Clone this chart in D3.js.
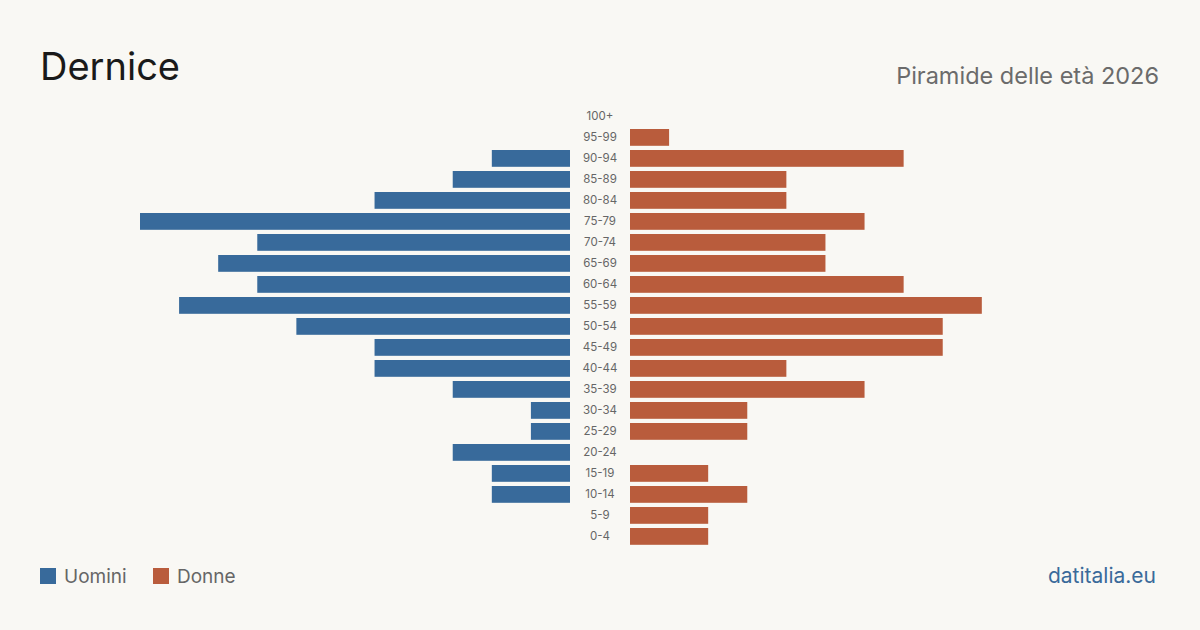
<!DOCTYPE html>
<html>
<head>
<meta charset="utf-8">
<script src="https://cdn.jsdelivr.net/npm/d3@7"></script>
<style>
  html, body { margin: 0; padding: 0; background: #f9f8f4; }
  svg { display: block; font-family: Inter, "Noto Sans", sans-serif; }
</style>
</head>
<body>
<div id="chart"></div>
<script>
// age groups, top to bottom
const ages = ["100+", "95-99", "90-94", "85-89", "80-84", "75-79", "70-74", "65-69", "60-64", "55-59",
  "50-54", "45-49", "40-44", "35-39", "30-34", "25-29", "20-24", "15-19", "10-14", "5-9", "0-4"];
const uomini = [0, 0, 2, 3, 5, 11, 8, 9, 8, 10, 7, 5, 5, 3, 1, 1, 3, 2, 2, 0, 0];
const donne = [0, 1, 7, 4, 4, 6, 5, 5, 7, 9, 8, 8, 4, 6, 3, 3, 0, 2, 3, 2, 2];

const W = 1200, H = 630;
const colMen = "#386a9b", colWomen = "#b95c3c";

const svg = d3.select("#chart").append("svg")
  .attr("width", W).attr("height", H);

svg.append("rect").attr("width", W).attr("height", H).attr("fill", "#f9f8f4");

// title & subtitle
svg.append("text").attr("x", 40).attr("y", 80)
  .attr("font-size", 38).attr("fill", "#1a1a1a").text("Dernice");
svg.append("text").attr("x", 1159).attr("y", 84).attr("text-anchor", "end")
  .attr("font-size", 23.5).attr("fill", "#6b6b6b").text("Piramide delle età 2026");

const y = d3.scaleBand().domain(ages).range([103.8, 549]).padding(0.2);
const maxV = 11;
const xL = d3.scaleLinear().domain([0, maxV]).range([570, 140]);
const xR = d3.scaleLinear().domain([0, maxV]).range([630, 1060]);

const rows = ages.map((a, i) => ({ age: a, m: uomini[i], f: donne[i] }));

svg.selectAll(".bar-m").data(rows).enter().append("rect")
  .attr("class", "bar-m")
  .attr("x", d => xL(d.m))
  .attr("y", d => y(d.age))
  .attr("width", d => xL(0) - xL(d.m))
  .attr("height", y.bandwidth())
  .attr("fill", colMen);

svg.selectAll(".bar-f").data(rows).enter().append("rect")
  .attr("class", "bar-f")
  .attr("x", xR(0))
  .attr("y", d => y(d.age))
  .attr("width", d => xR(d.f) - xR(0))
  .attr("height", y.bandwidth())
  .attr("fill", colWomen);

// age labels in the middle
svg.selectAll(".age").data(rows).enter().append("text")
  .attr("class", "age")
  .attr("x", 600)
  .attr("y", d => y(d.age) + y.bandwidth() / 2)
  .attr("dy", "0.35em")
  .attr("text-anchor", "middle")
  .attr("font-size", 11.5)
  .attr("fill", "#666")
  .text(d => d.age);

// legend
const legend = [{ label: "Uomini", color: colMen, x: 40 }, { label: "Donne", color: colWomen, x: 153 }];
legend.forEach(l => {
  svg.append("rect").attr("x", l.x).attr("y", 568).attr("width", 16).attr("height", 16).attr("fill", l.color);
  svg.append("text").attr("x", l.x + 24).attr("y", 583)
    .attr("font-size", 19).attr("fill", "#666").text(l.label);
});

svg.append("text").attr("x", 1156).attr("y", 583).attr("text-anchor", "end")
  .attr("font-size", 21).attr("fill", "#3a6a9a").text("datitalia.eu");
</script>
</body>
</html>
